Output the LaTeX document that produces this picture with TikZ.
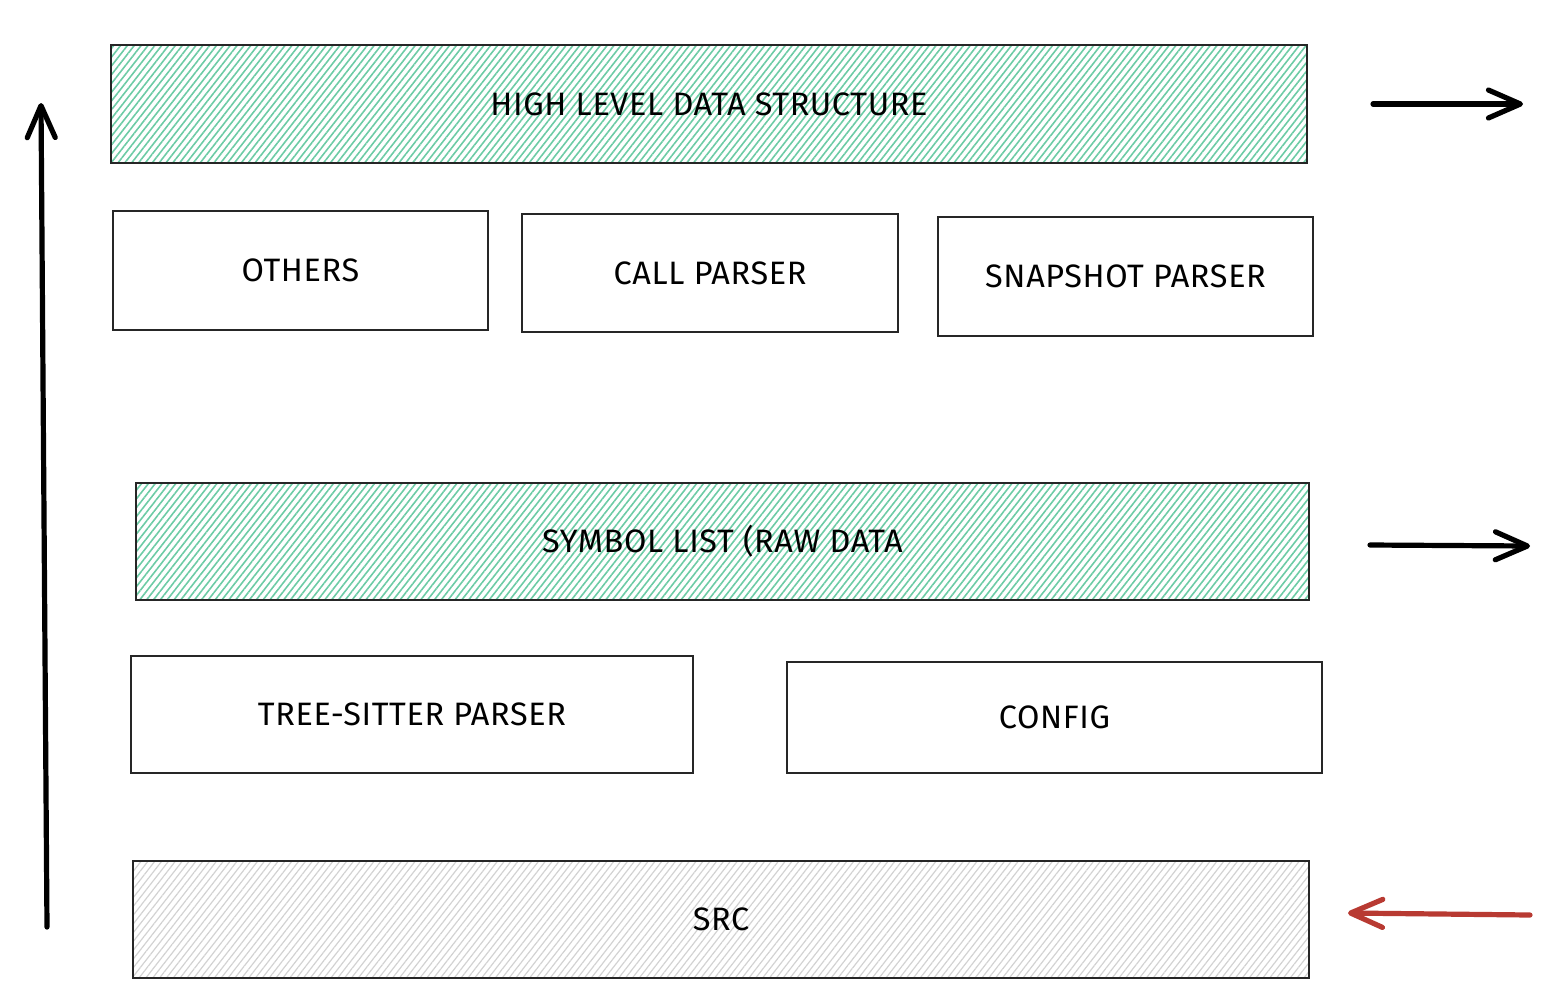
\documentclass[tikz,border=0pt]{standalone}
\usepackage{fontspec}
\setmainfont{Fira Sans}
\usetikzlibrary{arrows.meta,patterns.meta}
\definecolor{hatchgreen}{HTML}{6CCBA5}
\definecolor{hatchgray}{HTML}{D2D2D2}
\definecolor{arrowred}{HTML}{B83A32}
\begin{document}
\begin{tikzpicture}[x=0.5pt, y=-0.5pt,
  layer/.style={draw=black!85, line width=0.9pt, inner sep=0pt,
    font=\fontsize{16.2}{19}\selectfont\addfontfeatures{LetterSpace=2}},
  greenlayer/.style={layer, pattern={Lines[angle=52, distance=2.7pt, line width=0.8pt]}, pattern color=hatchgreen},
  graylayer/.style={layer, pattern={Lines[angle=52, distance=2.7pt, line width=0.6pt]}, pattern color=hatchgray},
  flow/.style={line width=2.6pt, line cap=round, -{Straight Barb[length=16pt, width=14pt, round]}}]
\useasboundingbox (0,0) rectangle (1548,998);
% layers, top to bottom
\draw[greenlayer] (111,45) rectangle (1307,163) node[midway] (high) {HIGH LEVEL DATA STRUCTURE};
\draw[layer] (113,211) rectangle (488,330) node[midway] (others) {OTHERS};
\draw[layer] (522,214) rectangle (898,332) node[midway] (call) {CALL PARSER};
\draw[layer] (938,217) rectangle (1313,336) node[midway] (snapshot) {SNAPSHOT PARSER};
\draw[greenlayer] (136,483) rectangle (1309,600) node[midway] (symbols) {SYMBOL LIST (RAW DATA};
\draw[layer] (131,656) rectangle (693,773) node[midway] (treesitter) {TREE-SITTER PARSER};
\draw[layer] (787,662) rectangle (1322,773) node[midway] (config) {CONFIG};
\draw[graylayer] (133,861) rectangle (1309,978) node[midway] (src) {SRC};
% arrows
\coordinate (up start) at (47,927);
\coordinate (up end) at (41,103);
\coordinate (out1 start) at (1373,104);
\coordinate (out1 end) at (1523,104);
\coordinate (out2 start) at (1370,545);
\coordinate (out2 end) at (1530,546);
\coordinate (in start) at (1530,915);
\coordinate (in end) at (1348,913);
\draw[flow] (up start) -- (up end);
\draw[flow] (out1 start) -- (out1 end);
\draw[flow] (out2 start) -- (out2 end);
\draw[flow, arrowred] (in start) -- (in end);
\end{tikzpicture}
\end{document}
